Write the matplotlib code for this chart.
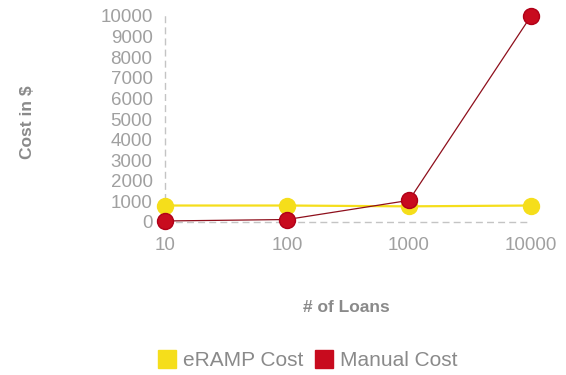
import matplotlib
import numpy as np
from matplotlib import pyplot as plt
from matplotlib.lines import Line2D

matplotlib.use("Agg")

loans = ["10", "100", "1000", "10000"]
eramp_cost = [800, 800, 760, 800]
manual_cost = [50, 120, 1050, 10000]
y_ticks = list(range(0, 10001, 1000))

YELLOW = "#f5de1b"
RED = "#c80b1e"
RED_LINE = "#8e0f1c"
TICK_GREY = "#a0a0a0"
LABEL_GREY = "#8a8a8a"

plt.rcParams["font.family"] = ["Liberation Sans", "DejaVu Sans"]

fig = plt.figure(figsize=(5.66, 3.75), dpi=100)
ax = fig.add_axes([165 / 566, 1 - 222 / 375, (531 - 165) / 566, (222 - 16) / 375])

x = np.arange(len(loans))
ax.plot(x, eramp_cost, color=YELLOW, lw=1.6, marker="o", ms=11.5,
        markerfacecolor=YELLOW, markeredgecolor=YELLOW, clip_on=False, zorder=3)
ax.plot(x, manual_cost, color=RED_LINE, lw=0.9, marker="o", ms=11.5,
        markerfacecolor=RED, markeredgecolor="#b00018", clip_on=False, zorder=4)

ax.set_xlim(0, len(loans) - 1)
ax.set_ylim(0, 10000)
ax.set_xticks(x)
ax.set_xticklabels(loans)
ax.set_yticks(y_ticks)
ax.tick_params(axis="both", length=0, labelsize=13.5, colors=TICK_GREY)
ax.tick_params(axis="y", pad=9)
ax.tick_params(axis="x", pad=11)

for side in ("top", "right"):
    ax.spines[side].set_visible(False)
for side in ("left", "bottom"):
    ax.spines[side].set_color("#c4c4c4")
    ax.spines[side].set_linewidth(1.0)
    ax.spines[side].set_linestyle((0, (4, 4)))

fig.text(28 / 566, 1 - 122 / 375, "Cost in $", rotation=90, ha="center", va="center",
         fontsize=12.5, fontweight="bold", color=LABEL_GREY)
fig.text(346 / 566, 1 - 308 / 375, "# of Loans", ha="center", va="center",
         fontsize=12.5, fontweight="bold", color=LABEL_GREY)

handles = [
    Line2D([], [], ls="none", marker="s", ms=13, markerfacecolor=YELLOW, markeredgecolor=YELLOW),
    Line2D([], [], ls="none", marker="s", ms=13, markerfacecolor=RED, markeredgecolor=RED),
]
leg = fig.legend(handles, ["eRAMP Cost", "Manual Cost"], loc="center",
                 bbox_to_anchor=(308 / 566, 1 - 361 / 375), ncol=2, frameon=False,
                 fontsize=15, handlelength=0.8, handletextpad=0.35, columnspacing=0.6)
for text in leg.get_texts():
    text.set_color(LABEL_GREY)

fig.savefig("out.png", dpi=100)
